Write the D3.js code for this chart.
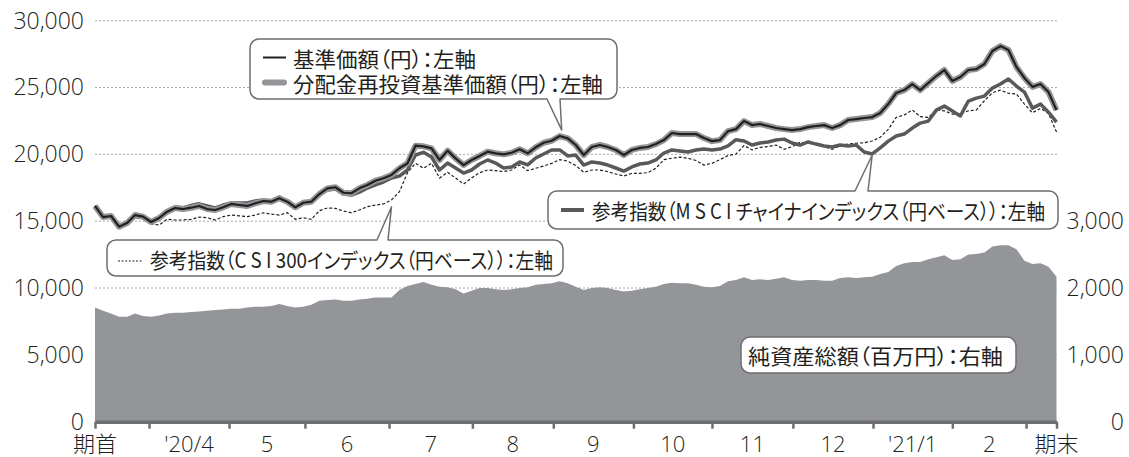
<!DOCTYPE html>
<html><head><meta charset="utf-8">
<script src="https://cdn.jsdelivr.net/npm/d3@7"></script>
<style>
body{margin:0;background:#fff;}
svg{display:block;}
.jp{font-family:"Noto Sans CJK JP","Noto Sans",sans-serif;font-feature-settings:"palt";fill:#231f20;}
.num{font-family:"Open Sans","Noto Sans CJK JP",sans-serif;font-weight:300;fill:#231f20;}
</style></head><body>
<svg id="c" width="1129" height="457"></svg>
<script>
// 基準価額（円）
const main = [16140,15310,15390,14590,14860,15460,15340,14940,15240,15710,
15990,15910,16010,16140,15910,15840,16040,16290,16210,16140,
16340,16510,16460,16710,16460,16040,16380,16460,17030,17450,
17540,17130,17090,17460,17710,18030,18210,18460,18960,19330,
20650,20600,20450,19580,20280,19700,19200,19580,19880,20200,
20080,20000,20120,20380,20080,20530,20870,21020,21370,21200,
20700,19950,20550,20700,20550,20330,19950,20330,20480,20550,
20770,21070,21600,21520,21520,21520,21220,20990,21070,21740,
21890,22490,22190,22270,22120,21970,21890,21820,21890,22040,
22120,22190,21970,22190,22570,22640,22720,22790,23090,23760,
24590,24810,25260,24810,25340,25860,26310,25490,25790,26310,
26380,26760,27730,28100,27810,26540,25720,25050,25260,24660,
23310];
// 分配金再投資基準価額（円）
const reinvest = main.slice();
// 参考指数（MSCI チャイナインデックス（円ベース））
const msci = [16140,15350,15420,14620,14900,15420,15300,14880,15180,15760,
16060,16000,16180,16300,16140,15990,16210,16360,16360,16360,
16510,16590,16510,16810,16440,16040,16360,16440,17030,17330,
17410,17030,16960,17180,17480,17710,17930,18230,18380,18830,
19950,20150,19800,18830,19350,18980,18600,18830,19280,19580,
19350,18980,19060,19430,19210,19730,20030,20330,20330,19880,
19950,19200,19430,19350,19200,18980,18750,19060,19280,19350,
19580,20100,20330,20250,20180,20330,20400,20330,20400,20630,
21100,21000,20700,20850,20930,21070,21140,20850,20700,20930,
20770,20630,20550,20700,20630,20700,20180,20030,20480,20990,
21370,21520,21970,22340,22490,23310,23610,23240,22870,23990,
24210,24360,24960,25260,25640,25110,24660,23460,23760,23160,
22410];
// 参考指数（CSI 300インデックス（円ベース））
const csi = [16140,15310,15310,14560,14790,15240,15160,14790,14720,15140,
15090,15090,15140,15310,15260,15090,15340,15460,15400,15340,
15460,15630,15530,15460,15630,15140,15260,15140,15780,15990,
15960,15760,15630,15840,16090,16210,16290,16590,17210,18630,
19330,18960,19330,18230,18660,18230,17780,18230,18630,18830,
18780,18710,18830,19210,18780,18960,19130,19330,19610,19490,
19160,18660,18830,18830,18710,18530,18380,18580,18580,18630,
18960,19610,19710,19790,19710,19540,19200,19330,19610,19910,
20020,20660,20330,20530,20580,20700,20380,20580,20910,20830,
20770,20580,20380,20650,20770,20830,20870,21000,21280,21870,
22770,22940,23320,22820,22770,23320,23260,23010,23010,23260,
23320,24010,24610,24810,24570,24520,23760,23110,23440,23060,
21670];
// 純資産総額（百万円）
const nav = [1710,1660,1620,1570,1570,1620,1580,1570,1590,1620,
1630,1630,1640,1650,1660,1670,1680,1690,1690,1710,
1720,1720,1730,1760,1730,1710,1720,1750,1810,1820,
1830,1810,1810,1830,1840,1860,1860,1860,1970,2030,
2060,2090,2050,2020,2010,1980,1920,1960,2000,2000,
1980,1970,1980,2000,2010,2050,2060,2070,2100,2070,
2020,1970,2000,2010,2000,1970,1950,1960,1980,2000,
2020,2060,2080,2070,2070,2050,2020,2010,2030,2100,
2120,2160,2120,2130,2120,2140,2160,2120,2110,2120,
2120,2110,2110,2150,2160,2150,2160,2170,2210,2240,
2330,2370,2390,2390,2430,2460,2490,2420,2430,2500,
2510,2530,2620,2640,2640,2580,2410,2360,2370,2320,
2170];
// month boundaries (position in the daily sample index)
const monthTicks = [0,6.74,16.73,26.2,36.7,47.1,57.2,67.2,77.0,87.1,97.1,107.0,116.2,120];
const xLabels = ["期首","'20/4","5","6","7","8","9","10","11","12","'21/1","2","期末"];
const leftTicks = [0,5000,10000,15000,20000,25000,30000];
const rightTicks = [0,1000,2000,3000];

const svg = d3.select('#c');
const x = d3.scaleLinear().domain([0, main.length-1]).range([95, 1056.5]);
const yL = d3.scaleLinear().domain([0,30000]).range([421.7,20.7]);
const yR = d3.scaleLinear().domain([0,6000]).range([421.7,20.7]);

// grid
svg.append('g').selectAll('line').data(leftTicks.filter(v=>v>0)).join('line')
  .attr('x1',95).attr('x2',1057).attr('y1',d=>yL(d)).attr('y2',d=>yL(d))
  .attr('stroke','#a7a9ac').attr('stroke-width',1).attr('stroke-dasharray','2,2');

// area
svg.append('path').datum(nav)
  .attr('d', d3.area().x((d,i)=>x(i)).y0(yR(0)).y1(d=>yR(d)))
  .attr('fill','#939598');

// bottom axis
const gx = svg.append('g').attr('transform',`translate(0,${yL(0)})`)
  .call(d3.axisBottom(x).tickValues(monthTicks).tickSize(7).tickSizeOuter(0).tickFormat(''));
gx.select('.domain').attr('stroke','#6d6e71').attr('stroke-width',3.5);
gx.selectAll('.tick line').attr('stroke','#6d6e71').attr('stroke-width',2.5);

// x labels
const labPos = xLabels.map((l,i)=> i===0 ? x(monthTicks[0]) : (i===xLabels.length-1 ? x(monthTicks[monthTicks.length-1]) : (x(monthTicks[i])+x(monthTicks[i+1]))/2));
svg.append('g').selectAll('text').data(xLabels).join('text')
  .attr('class','num').attr('x',(d,i)=>labPos[i]).attr('y',443)
  .attr('text-anchor','middle').attr('dominant-baseline','central')
  .style('font-size','22px').text(d=>d);

// left axis
const gl = svg.append('g').attr('transform','translate(84,0)')
  .call(d3.axisLeft(yL).tickValues(leftTicks).tickFormat(d3.format(',')).tickSize(0).tickPadding(0));
gl.select('.domain').remove();
gl.selectAll('text').attr('class','num').style('font-size','23px');
gl.attr('font-family',null).attr('font-size',null);

// right axis
const gr = svg.append('g').attr('transform','translate(1124,0)')
  .call(d3.axisLeft(yR).tickValues(rightTicks).tickFormat(d3.format(',')).tickSize(0).tickPadding(0));
gr.select('.domain').remove();
gr.selectAll('text').attr('class','num').style('font-size','23px');
gr.attr('font-family',null).attr('font-size',null);

// lines
const line = d3.line().x((d,i)=>x(i)).y(d=>yL(d));
svg.append('path').datum(csi).attr('d',line).attr('fill','none')
  .attr('stroke','#231f20').attr('stroke-width',1.2).attr('stroke-dasharray','3,2');
svg.append('path').datum(msci).attr('d',line).attr('fill','none')
  .attr('stroke','#58595b').attr('stroke-width',3.5).attr('stroke-linejoin','round');
svg.append('path').datum(reinvest).attr('d',line).attr('fill','none')
  .attr('stroke','#939598').attr('stroke-width',6).attr('stroke-linejoin','round');
svg.append('path').datum(main).attr('d',line).attr('fill','none')
  .attr('stroke','#231f20').attr('stroke-width',2.2).attr('stroke-linejoin','round');

// callouts
function callout(b){
  const p=d3.path(); const {x0,y0,x1,y1,r}=b; const t=b.tail;
  p.moveTo(x0+r,y0);
  if(t&&t.side==='top'){p.lineTo(t.a,y0);p.lineTo(t.tip[0],t.tip[1]);p.lineTo(t.b,y0);}
  p.lineTo(x1-r,y0); p.arcTo(x1,y0,x1,y0+r,r); p.lineTo(x1,y1-r); p.arcTo(x1,y1,x1-r,y1,r);
  if(t&&t.side==='bottom'){p.lineTo(t.b,y1);p.lineTo(t.tip[0],t.tip[1]);p.lineTo(t.a,y1);}
  p.lineTo(x0+r,y1); p.arcTo(x0,y1,x0,y1-r,r); p.lineTo(x0,y0+r); p.arcTo(x0,y0,x0+r,y0,r);
  p.closePath();
  svg.append('path').attr('d',p.toString()).attr('fill','#fff')
    .attr('stroke','#6d6e71').attr('stroke-width',1.5).attr('stroke-linejoin','round');
}
function label(txt,x0,x1,y,size){
  svg.append('text').attr('class','jp').attr('x',x0).attr('y',y)
    .attr('dominant-baseline','central').style('font-size',size+'px')
    .attr('textLength',x1-x0).attr('lengthAdjust','spacingAndGlyphs').text(txt);
}
function swatch(x0,x1,y,color,w,dash,cap){
  svg.append('line').attr('x1',x0).attr('x2',x1).attr('y1',y).attr('y2',y)
    .attr('stroke',color).attr('stroke-width',w).attr('stroke-dasharray',dash||null)
    .attr('stroke-linecap',cap||'butt');
}

// box 1: 基準価額 / 分配金再投資
callout({x0:250,y0:39,x1:617,y1:99,r:9,tail:{side:'bottom',a:547,b:560,tip:[x(58.25),yL(main[58])-6]}});
swatch(263,286,57.5,'#231f20',2);
label('基準価額（円）：左軸',293,476,57.5,21);
swatch(265,284,82.5,'#939598',6,null,'round');
label('分配金再投資基準価額（円）：左軸',293,603,82.5,21);

// box 2: MSCI
callout({x0:548,y0:191,x1:1058,y1:229,r:9,tail:{side:'top',a:855,b:868,tip:[x(97),yL(msci[97])+1]}});
swatch(561,584,210,'#58595b',4);
label('参考指数（M S C I チャイナインデックス（円ベース））：左軸',592,1045,210,21);

// box 3: CSI300
callout({x0:107,y0:240,x1:563,y1:276,r:9,tail:{side:'top',a:377,b:388,tip:[x(37),yL(csi[37])+7]}});
swatch(118,143,261,'#231f20',1.2,'2,1.6');
label('参考指数（C S I 300インデックス（円ベース））：左軸',150,553,259,21);

// box 4: 純資産総額
callout({x0:741,y0:337,x1:1016,y1:373,r:9});
label('純資産総額（百万円）：右軸',748,1003,355,21);
</script>
</body></html>
